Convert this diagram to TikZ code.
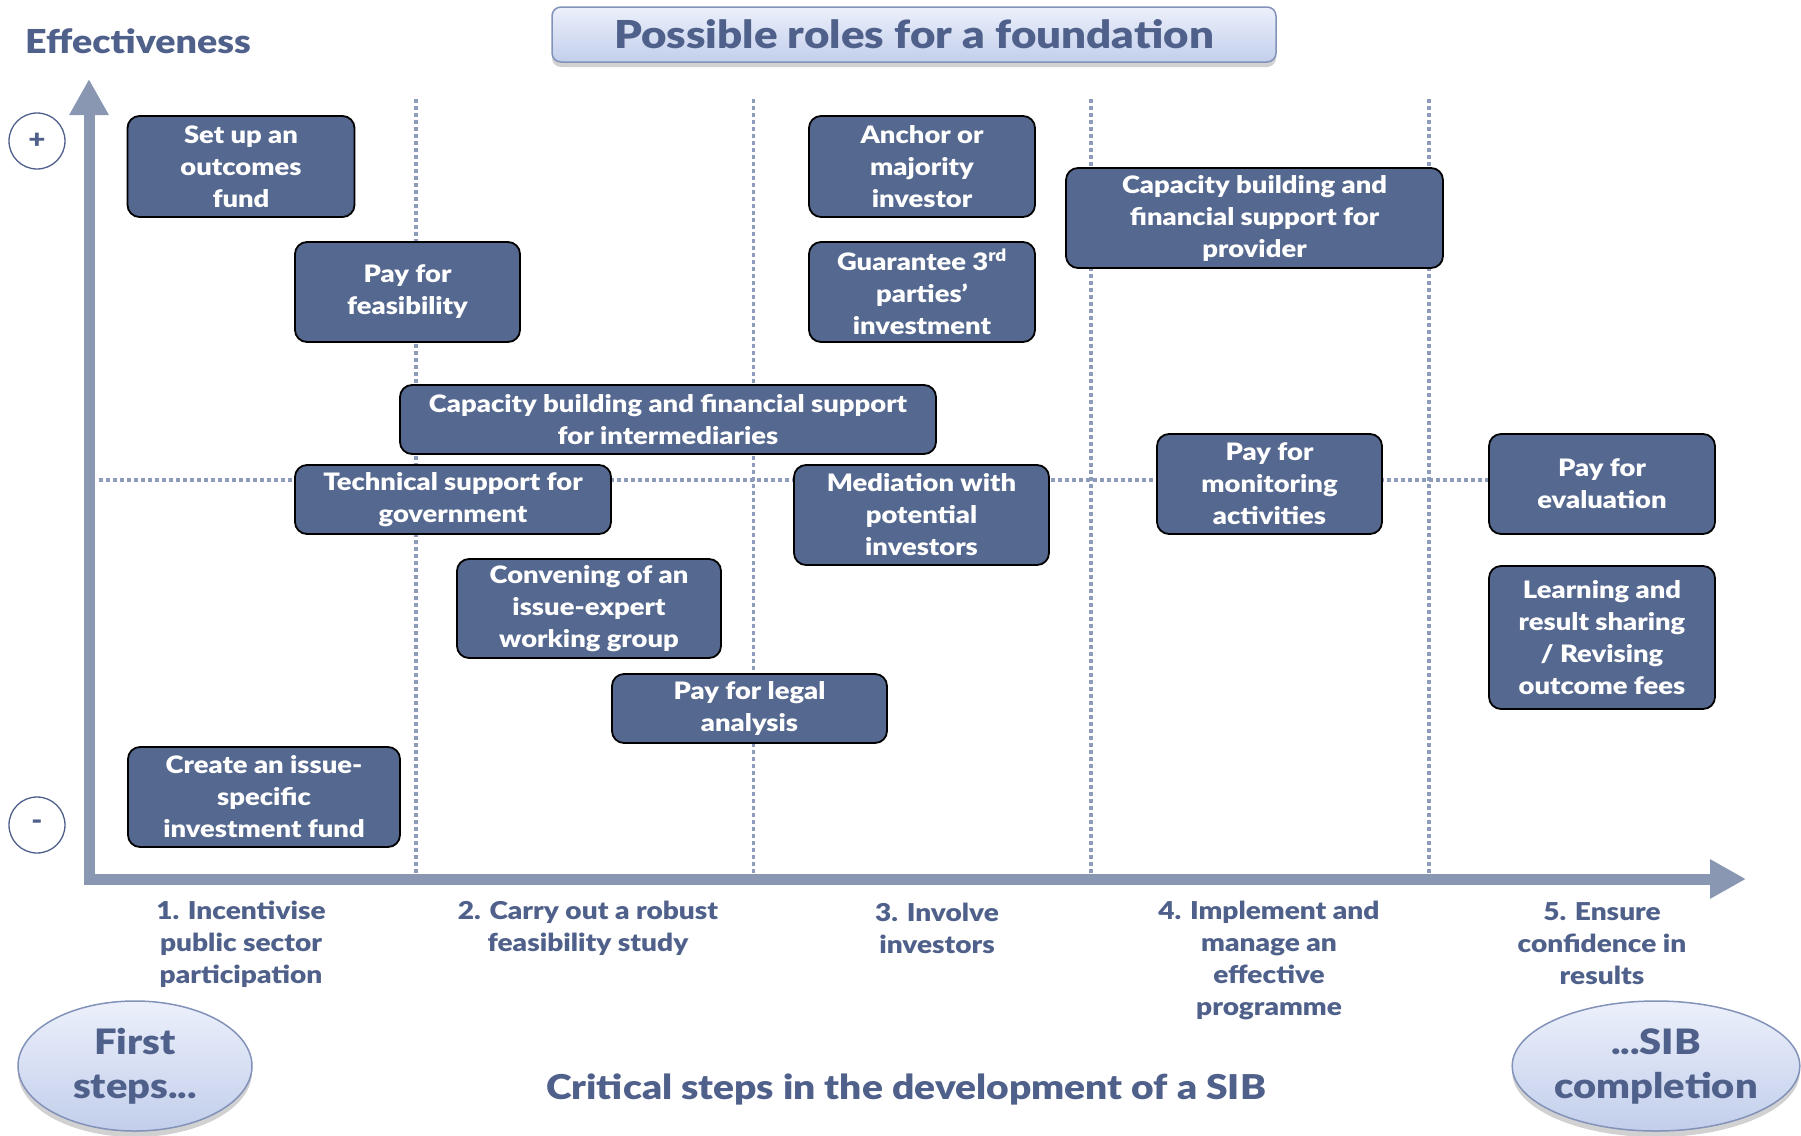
\documentclass[tikz,border=0pt]{standalone}
\usepackage{fontspec}
\setmainfont{Lato}[BoldFont={Lato Black}, BoldFeatures={FakeStretch=1.14}]
\usetikzlibrary{arrows.meta,shapes.geometric,shadows}
\definecolor{boxfill}{RGB}{85,104,143}
\definecolor{axiscol}{RGB}{137,151,179}
\definecolor{lbl}{RGB}{79,96,138}
\definecolor{dotcol}{RGB}{140,156,186}
\definecolor{ttop}{RGB}{236,240,251}
\definecolor{tbot}{RGB}{194,206,235}
\definecolor{tborder}{RGB}{130,146,185}
\tikzset{
  role/.style={draw=black, line width=1.8pt, fill=boxfill, rounded corners=12pt,
    text=white, align=center, inner sep=0pt,
    font=\fontsize{24}{32}\selectfont\bfseries},
  gridline/.style={draw=dotcol, line width=3.2pt, dash pattern=on 4pt off 3pt},
  axisline/.style={draw=axiscol, line width=11pt, line join=miter,
    {Triangle[length=36pt,width=37pt]}-{Triangle[length=36pt,width=37pt]}},
  steplbl/.style={text=lbl, align=center, inner sep=0pt,
    font=\fontsize{24.6}{32}\selectfont\bfseries},
  titlebox/.style={draw=tborder, line width=1.5pt, rounded corners=9pt,
    top color=ttop, bottom color=tbot, text=lbl, inner sep=0pt,
    drop shadow={shadow xshift=0pt, shadow yshift=-5pt, opacity=0.3, fill=black!60},
    font=\fontsize{38.5}{42}\selectfont\bfseries},
  endell/.style={ellipse, draw=tborder, line width=1.5pt,
    top color=ttop, bottom color=tbot, text=lbl, inner sep=0pt, align=center,
    drop shadow={shadow xshift=0pt, shadow yshift=-6pt, opacity=0.3, fill=black!60},
    font=\fontsize{35}{44}\selectfont\bfseries},
  pm/.style={circle, draw=lbl, line width=1.3pt, minimum size=56pt, inner sep=0pt,
    text=lbl, font=\fontsize{26}{26}\selectfont\bfseries},
}
\begin{document}
\begin{tikzpicture}[x=1pt,y=-1pt]
\useasboundingbox (0,0) rectangle (1801,1135);
% grid coordinates
\coordinate (v1t) at (416,99);   \coordinate (v1b) at (416,873);
\coordinate (v2t) at (753.5,99); \coordinate (v2b) at (753.5,873);
\coordinate (v3t) at (1091,99);  \coordinate (v3b) at (1091,873);
\coordinate (v4t) at (1429,99);  \coordinate (v4b) at (1429,873);
\coordinate (hl) at (99,480);    \coordinate (hr) at (1489,480);
\draw[gridline] (v1t) -- (v1b);
\draw[gridline] (v2t) -- (v2b);
\draw[gridline] (v3t) -- (v3b);
\draw[gridline] (v4t) -- (v4b);
\draw[gridline] (hl) -- (hr);
% axes
\coordinate (ytip) at (89,79);
\coordinate (origin) at (89,879);
\coordinate (xtip) at (1746,879);
\draw[axisline] (ytip) -- (origin) -- (xtip);
% headings
\node[anchor=base west, text=lbl, inner sep=0pt, font=\fontsize{33}{36}\selectfont\bfseries] (eff) at (25,53) {Effectiveness};
\node[titlebox, minimum width=724pt, minimum height=55pt] (title) at (914,34.5) {Possible roles for a foundation};
\node[pm] (plus) at (37,141) {+};
\node[pm] (minus) at (37,825) {-};
% role boxes
\node[role, minimum width=227pt, minimum height=101pt] (n1) at (241,166.5) {Set up an\\outcomes\\fund};
\node[role, minimum width=225pt, minimum height=100pt] (n2) at (407.5,292) {Pay for\\feasibility};
\node[role, minimum width=226pt, minimum height=101pt] (n3) at (922,166.5) {Anchor or\\majority\\investor};
\node[role, minimum width=226pt, minimum height=100pt] (n4) at (922,292) {Guarantee 3\textsuperscript{rd}\\parties’\\investment};
\node[role, minimum width=377pt, minimum height=100pt] (n5) at (1254.5,218) {Capacity building and\\financial support for\\provider};
\node[role, minimum width=536pt, minimum height=69pt] (n6) at (668,419.5) {Capacity building and financial support\\for intermediaries};
\node[role, minimum width=316pt, minimum height=69pt] (n7) at (453,499.5) {Technical support for\\government};
\node[role, minimum width=255pt, minimum height=100pt] (n8) at (921.5,515) {Mediation with\\potential\\investors};
\node[role, minimum width=225pt, minimum height=100pt] (n9) at (1269.5,484) {Pay for\\monitoring\\activities};
\node[role, minimum width=226pt, minimum height=100pt] (n10) at (1602,484) {Pay for\\evaluation};
\node[role, minimum width=226pt, minimum height=143pt] (n11) at (1602,637.5) {Learning and\\result sharing\\/ Revising\\outcome fees};
\node[role, minimum width=264pt, minimum height=99pt] (n12) at (589,608.5) {Convening of an\\issue-expert\\working group};
\node[role, minimum width=275pt, minimum height=69pt] (n13) at (749.5,708.5) {Pay for legal\\analysis};
\node[role, minimum width=272pt, minimum height=100pt] (n14) at (264,797) {Create an issue-\\specific\\investment fund};
% step labels
\node[steplbl] (s1) at (241,944) {1. Incentivise\\public sector\\participation};
\node[steplbl] (s2) at (588,928) {2. Carry out a robust\\feasibility study};
\node[steplbl] (s3) at (937,928) {3. Involve\\investors};
\node[steplbl] (s4) at (1269,960) {4. Implement and\\manage an\\effective\\programme};
\node[steplbl] (s5) at (1602,944) {5. Ensure\\confidence in\\results};
\node[text=lbl, inner sep=0pt, font=\fontsize{34.2}{38}\selectfont\bfseries] (crit) at (906,1089) {Critical steps in the development of a SIB};
% end ellipses
\node[endell, minimum width=234pt, minimum height=130pt] (first) at (135,1066) {First\\steps...};
\node[endell, minimum width=286pt, minimum height=130pt] (last) at (1656,1066) {...SIB\\completion};
\end{tikzpicture}
\end{document}
